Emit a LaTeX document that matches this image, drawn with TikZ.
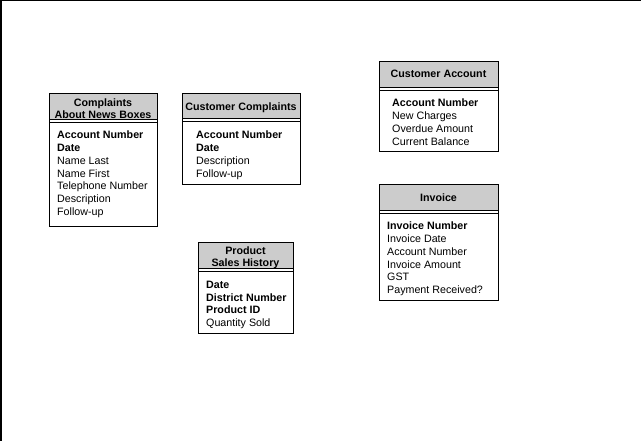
\documentclass[tikz,border=0pt]{standalone}
\usepackage{fontspec}
\setmainfont{Liberation Sans}
\usepackage{xcolor}
\definecolor{hdrgray}{RGB}{204,204,204}

\begin{document}
\begin{tikzpicture}[x=1pt,y=-1pt,
  box/.style={draw=black, line width=1pt},
  hdr/.style={draw=black, line width=1pt, fill=hdrgray},
  title/.style={anchor=north, inner sep=0pt, align=center, font=\fontsize{10.7}{12}\selectfont\bfseries},
  fields/.style={anchor=north west, inner sep=0pt, align=left, font=\fontsize{10.7}{12.8}\selectfont}]
\useasboundingbox (0,0) rectangle (641,441);
\draw[line width=1.5pt] (0.75,441) -- (0.75,0.75) -- (641,0.75);

% Complaints About News Boxes
\draw[box] (49,94) rectangle (157,227);
\draw[hdr] (49,94) rectangle (157,120);
\draw[box] (49,123) -- (157,123);
\node[title] (cnbTitle) at (103,98.8) {Complaints\\About News Boxes};
\node[fields] (cnbFields) at (57,130.8) {\textbf{Account Number}\\\textbf{Date}\\Name Last\\Name First\\Telephone Number\\Description\\Follow-up};

% Customer Complaints
\draw[box] (182,94) rectangle (300,185);
\draw[hdr] (182,94) rectangle (300,119);
\draw[box] (182,122) -- (300,122);
\node[title] (ccTitle) at (241,102.3) {Customer Complaints};
\node[fields] (ccFields) at (196,130.8) {\textbf{Account Number}\\\textbf{Date}\\Description\\Follow-up};

% Customer Account
\draw[box] (379,62) rectangle (498,152);
\draw[hdr] (379,62) rectangle (498,88);
\draw[box] (379,91) -- (498,91);
\node[title] (caTitle) at (438.5,70.3) {Customer Account};
\node[fields] (caFields) at (392,98.8) {\textbf{Account Number}\\New Charges\\Overdue Amount\\Current Balance};

% Invoice
\draw[box] (379,185) rectangle (498,301);
\draw[hdr] (379,185) rectangle (498,211);
\draw[box] (379,214) -- (498,214);
\node[title] (invTitle) at (438.5,193.3) {Invoice};
\node[fields] (invFields) at (387,221.8) {\textbf{Invoice Number}\\Invoice Date\\Account Number\\Invoice Amount\\GST\\Payment Received?};

% Product Sales History
\draw[box] (198,243) rectangle (293,334);
\draw[hdr] (198,243) rectangle (293,269);
\draw[box] (198,272) -- (293,272);
\node[title] (pshTitle) at (245.5,246.8) {Product\\Sales History};
\node[fields] (pshFields) at (206,280.8) {\textbf{Date}\\\textbf{District Number}\\\textbf{Product ID}\\Quantity Sold};
\end{tikzpicture}
\end{document}
